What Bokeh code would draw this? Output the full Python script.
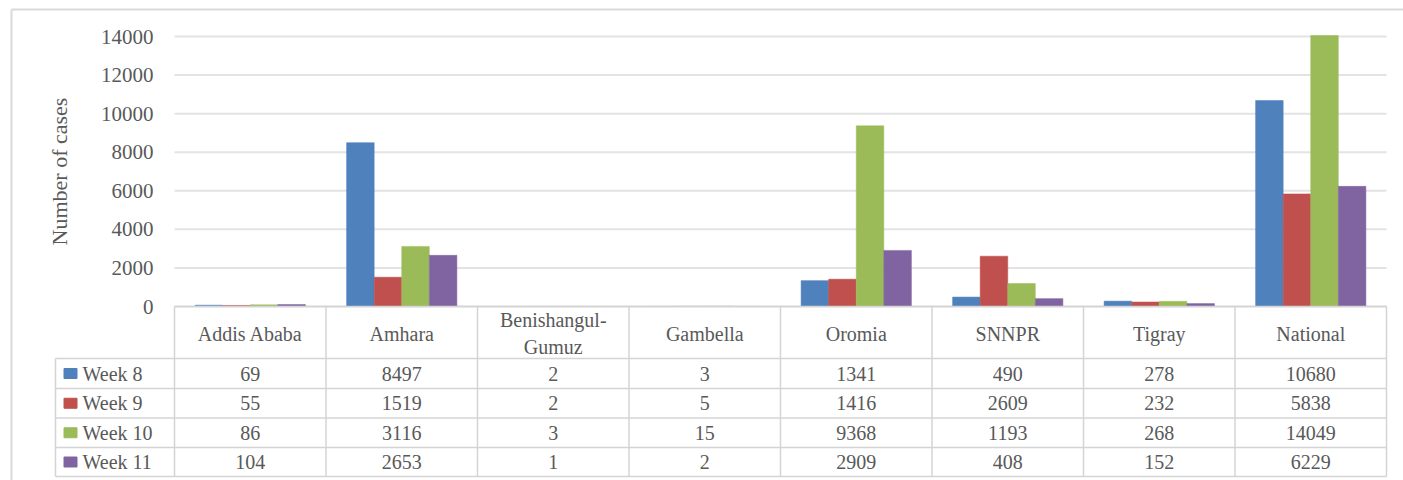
from bokeh.plotting import figure
from bokeh.models import Range1d, LinearAxis, FixedTicker, ColumnDataSource
from bokeh.transform import dodge
from bokeh.core.properties import value
from bokeh.embed import file_html
from bokeh.resources import INLINE

# ---- data -------------------------------------------------------------
regions = ["Addis Ababa", "Amhara", "Benishangul-\nGumuz", "Gambella",
           "Oromia", "SNNPR", "Tigray", "National"]
weeks = ["Week 8", "Week 9", "Week 10", "Week 11"]
week8 = [69, 8497, 2, 3, 1341, 490, 278, 10680]
week9 = [55, 1519, 2, 5, 1416, 2609, 232, 5838]
week10 = [86, 3116, 3, 15, 9368, 1193, 268, 14049]
week11 = [104, 2653, 1, 2, 2909, 408, 152, 6229]
y_ticks = [0, 2000, 4000, 6000, 8000, 10000, 12000, 14000]

series = [week8, week9, week10, week11]
colors = ["#4F81BD", "#C0504D", "#9BBB59", "#8064A2"]

# ---- layout (pixels) ---------------------------------------------------
W, H = 1403, 480
PLOT_LEFT, PLOT_RIGHT = 174, 1386
ZERO_Y, TOP_TICK_Y = 306, 36
HEADER_BOTTOM = 358
ROW_EDGES = [358, 388, 417.5, 447, 476]
LEGEND_LEFT = 55
FONT = "Liberation Serif"
TEXT_COLOR = "#595959"
LINE_COLOR = "#D4D4D4"
TABLE_FONT_SIZE = "20px"

n = len(regions)
cw = (PLOT_RIGHT - PLOT_LEFT) / n                 # pixels per category
ppu = (ZERO_Y - TOP_TICK_Y) / max(y_ticks)        # pixels per case

p = figure(width=W, height=H, output_backend="svg", toolbar_location=None,
           x_range=Range1d(-PLOT_LEFT / cw, (W - PLOT_LEFT) / cw),
           y_range=Range1d(-(H - ZERO_Y) / ppu, ZERO_Y / ppu),
           x_axis_location=None, y_axis_location=None,
           min_border=0, outline_line_color=None,
           background_fill_color="white", border_fill_color="white")
p.xgrid.visible = False
p.ygrid.visible = False

# pixel ranges for the frame and table furniture
p.extra_x_ranges = {"px": Range1d(0, W)}
p.extra_y_ranges = {"py": Range1d(H, 0)}

# outer chart border
p.segment(x0=[11, 11], y0=[9, 9], x1=[11, W], y1=[H, 9],
          x_range_name="px", y_range_name="py",
          line_color="#D9D9D9", line_width=2)

# horizontal gridlines at the value ticks
p.segment(x0=[0] * len(y_ticks), x1=[n] * len(y_ticks), y0=y_ticks, y1=y_ticks,
          line_color="#E3E3E3", line_width=2)

# ---- bars ----------------------------------------------------------------
src = ColumnDataSource(dict(x=[i + 0.5 for i in range(n)],
                            w8=week8, w9=week9, w10=week10, w11=week11))
bar_w = 0.182
for k, (col, c) in enumerate(zip(["w8", "w9", "w10", "w11"], colors)):
    off = (k - 1.5) * bar_w
    p.vbar(x=dodge("x", off, range=p.x_range), top=col, bottom=0, width=bar_w,
           source=src, fill_color=c, line_color=c, line_width=0.5)

# ---- value axis ------------------------------------------------------------
yaxis = LinearAxis(fixed_location=0,
                   ticker=FixedTicker(ticks=y_ticks),
                   bounds=(0, max(y_ticks)),
                   axis_line_color=None,
                   major_tick_line_color=None, minor_tick_line_color=None,
                   major_tick_in=0, major_tick_out=0,
                   major_label_standoff=21,
                   major_label_text_font=FONT,
                   major_label_text_font_size="21px",
                   major_label_text_color=TEXT_COLOR,
                   axis_label="Number of cases",
                   axis_label_standoff=26,
                   axis_label_text_font=FONT,
                   axis_label_text_font_size="22px",
                   axis_label_text_font_style="normal",
                   axis_label_text_color=TEXT_COLOR)
p.add_layout(yaxis, "left")

# ---- data table -----------------------------------------------------------
# vertical category dividers
p.segment(x0=list(range(n + 1)), x1=list(range(n + 1)),
          y0=[ZERO_Y] * (n + 1), y1=[ROW_EDGES[-1]] * (n + 1),
          y_range_name="py", line_color=LINE_COLOR, line_width=1.5)
# legend column left edge
p.segment(x0=[LEGEND_LEFT], x1=[LEGEND_LEFT], y0=[HEADER_BOTTOM], y1=[ROW_EDGES[-1]],
          x_range_name="px", y_range_name="py", line_color=LINE_COLOR, line_width=1.5)
# horizontal row rules
p.segment(x0=[PLOT_LEFT], x1=[PLOT_RIGHT], y0=[ZERO_Y], y1=[ZERO_Y],
          x_range_name="px", y_range_name="py", line_color=LINE_COLOR, line_width=1.5)
p.segment(x0=[LEGEND_LEFT] * len(ROW_EDGES), x1=[PLOT_RIGHT] * len(ROW_EDGES),
          y0=ROW_EDGES, y1=ROW_EDGES,
          x_range_name="px", y_range_name="py", line_color=LINE_COLOR, line_width=1.5)

# category header
p.text(x=[i + 0.5 for i in range(n)], y=[(ZERO_Y + HEADER_BOTTOM) / 2 + 1] * n,
       text=regions, y_range_name="py",
       text_align="center", text_baseline="middle", text_line_height=1.2,
       text_font=value(FONT), text_font_size=TABLE_FONT_SIZE, text_color=TEXT_COLOR)

row_mid = [(a + b) / 2 for a, b in zip(ROW_EDGES[:-1], ROW_EDGES[1:])]
for r, vals in enumerate(series):
    p.text(x=[i + 0.5 for i in range(n)], y=[row_mid[r]] * n,
           text=[str(v) for v in vals], y_range_name="py",
           text_align="center", text_baseline="middle",
           text_font=value(FONT), text_font_size=TABLE_FONT_SIZE, text_color=TEXT_COLOR)

# legend keys and series names in the first column
p.rect(x=[70] * len(weeks), y=row_mid, width=13, height=10,
       width_units="screen", height_units="screen",
       x_range_name="px", y_range_name="py",
       fill_color=colors, line_color=colors)
p.text(x=[82] * len(weeks), y=row_mid, text=weeks,
       x_range_name="px", y_range_name="py",
       text_align="left", text_baseline="middle",
       text_font=value(FONT), text_font_size=TABLE_FONT_SIZE, text_color=TEXT_COLOR)

open("out.html", "w").write(file_html(p, INLINE))
